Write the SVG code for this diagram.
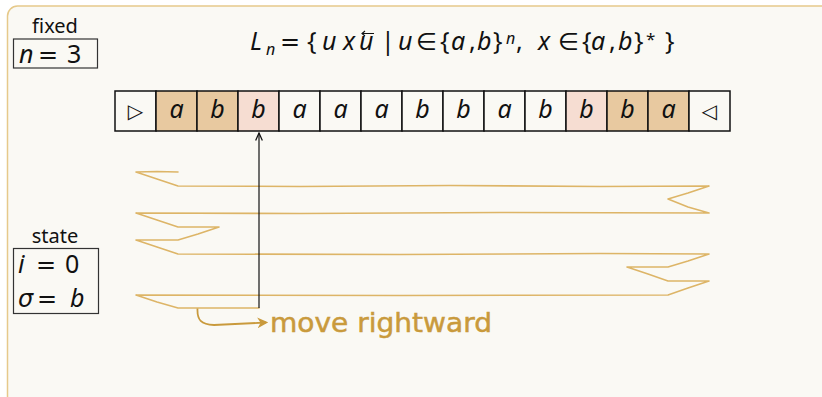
<svg xmlns="http://www.w3.org/2000/svg" width="822" height="397" viewBox="0 0 822 397">
<defs>
<style>
.m{font-family:"Noto Sans","DejaVu Sans",sans-serif;font-size:25px;fill:#111}
.i{font-style:italic}
.d{font-family:"DejaVu Sans",sans-serif;font-size:24px;fill:#111}
.lbl{font-family:"Noto Sans","DejaVu Sans",sans-serif;font-size:20px;fill:#111}
.cell{stroke:#111;stroke-width:1.5}
.w{fill:#faf9f4}.t{fill:#e8c9a0}.p{fill:#f6ddd2}
.ct{font-family:"Noto Sans","DejaVu Sans",sans-serif;font-size:25px;font-style:italic;fill:#111;text-anchor:middle}
.sym{font-family:"DejaVu Sans",sans-serif;font-size:20px;fill:#111;text-anchor:middle}
.gold{fill:none;stroke:#ddb567;stroke-width:1.6;stroke-linejoin:round;stroke-linecap:round}
.box{fill:none;stroke:#333;stroke-width:1.2}
</style>
<marker id="ah" viewBox="0 0 10 10" refX="9" refY="5" markerWidth="7" markerHeight="7" orient="auto">
<path d="M0,1 L9,5 L0,9" fill="none" stroke="#111" stroke-width="1.5"/>
</marker>
<marker id="gh" viewBox="0 0 10 10" refX="8" refY="5" markerWidth="6" markerHeight="6" orient="auto">
<path d="M0,0 L10,5 L0,10 L3,5 z" fill="#c99a3c"/>
</marker>
</defs>
<rect x="0" y="0" width="822" height="397" fill="#ffffff"/>
<rect x="7.5" y="6" width="830" height="400" rx="10" fill="#faf9f4" stroke="#e6c98a" stroke-width="1.5"/>

<g id="formula">
<text class="m i" x="250" y="50">L</text>
<text class="m i" x="266" y="55" style="font-size:16px">n</text>
<text class="d" x="280" y="50">=</text>
<text class="m" x="307" y="50">{</text>
<text class="m i" x="322" y="50">u</text>
<text class="m i" x="343" y="50">x</text>
<text class="m i" x="359" y="50">u</text>
<path d="M374,33.5 H362 M365,31 L362,33.5 L365,36" fill="none" stroke="#111" stroke-width="1.1"/>
<text class="m" x="381" y="50">|</text>
<text class="m i" x="398" y="50">u</text>
<text class="d" x="416" y="50">∈</text>
<text class="m" x="440" y="50">{</text>
<text class="m i" x="451" y="50">a</text>
<text class="m" x="469" y="50">,</text>
<text class="m i" x="477" y="50">b</text>
<text class="m" x="493" y="50">}</text>
<text class="m i" x="506" y="44" style="font-size:16px">n</text>
<text class="m" x="516" y="50">,</text>
<text class="m i" x="538" y="50">x</text>
<text class="d" x="558" y="50">∈</text>
<text class="m" x="582" y="50">{</text>
<text class="m i" x="591" y="50">a</text>
<text class="m" x="609" y="50">,</text>
<text class="m i" x="618" y="50">b</text>
<text class="m" x="634" y="50">}</text>
<text class="m" x="646" y="45" style="font-size:17px">*</text>
<text class="m" x="665" y="50">}</text>
</g>

<g id="fixed">
<text class="lbl" x="55" y="33" text-anchor="middle">fixed</text>
<rect class="box" x="13.5" y="39" width="84" height="29"/>
<text class="m i" x="19" y="63">n</text>
<text class="d" x="38" y="63">=</text>
<text class="m" x="67" y="63">3</text>
</g>

<g id="state">
<text class="lbl" x="55" y="243" text-anchor="middle">state</text>
<rect class="box" x="13.5" y="248.5" width="85" height="65"/>
<text class="m i" x="18" y="273">i</text>
<text class="d" x="36" y="273">=</text>
<text class="m" x="65" y="273">0</text>
<text class="d i" x="18" y="307">σ</text>
<text class="d" x="37" y="307">=</text>
<text class="m i" x="70" y="307">b</text>
</g>

<g id="tape">
<rect class="cell w" x="115" y="91" width="41" height="40"/>
<rect class="cell t" x="156" y="91" width="41" height="40"/>
<rect class="cell t" x="197" y="91" width="41" height="40"/>
<rect class="cell p" x="238" y="91" width="41" height="40"/>
<rect class="cell w" x="279" y="91" width="41" height="40"/>
<rect class="cell w" x="320" y="91" width="41" height="40"/>
<rect class="cell w" x="361" y="91" width="41" height="40"/>
<rect class="cell w" x="402" y="91" width="41" height="40"/>
<rect class="cell w" x="443" y="91" width="41" height="40"/>
<rect class="cell w" x="484" y="91" width="41" height="40"/>
<rect class="cell w" x="525" y="91" width="41" height="40"/>
<rect class="cell p" x="566" y="91" width="41" height="40"/>
<rect class="cell t" x="607" y="91" width="41" height="40"/>
<rect class="cell t" x="648" y="91" width="41" height="40"/>
<rect class="cell w" x="689" y="91" width="41" height="40"/>
<text class="sym" x="135.5" y="118">▷</text>
<text class="ct" x="176.5" y="118">a</text>
<text class="ct" x="217.5" y="118">b</text>
<text class="ct" x="258.5" y="118">b</text>
<text class="ct" x="299.5" y="118">a</text>
<text class="ct" x="340.5" y="118">a</text>
<text class="ct" x="381.5" y="118">a</text>
<text class="ct" x="422.5" y="118">b</text>
<text class="ct" x="463.5" y="118">b</text>
<text class="ct" x="504.5" y="118">a</text>
<text class="ct" x="545.5" y="118">b</text>
<text class="ct" x="586.5" y="118">b</text>
<text class="ct" x="627.5" y="118">b</text>
<text class="ct" x="668.5" y="118">a</text>
<text class="sym" x="709.5" y="118">◁</text>
</g>

<g id="connectors">
<path class="gold" d="M178,172 L157,171.5 L136,172 L157,179 L178,186 L300,186.5 L450,185.5 L600,186.5 L709,186 L688,193 L668,199 L688,207 L709,213 L500,212.5 L300,213.5 L136,213 L157,220 L178,227 L219,227 L198,234 L178,240 L136,240 L157,247 L178,254 L400,254.5 L600,253.5 L709,254 L688,261 L668,267 L627,267 L648,274 L668,281 L709,281 L688,288 L668,295 L400,295.5 L136,295 L157,302 L178,308 L259,308"/>
<line x1="259" y1="308" x2="259" y2="133" stroke="#111" stroke-width="1.2" marker-end="url(#ah)"/>
<path d="M197.5,308.5 C197,320 201,324.5 214,325 L266,322.5" fill="none" stroke="#c99a3c" stroke-width="1.8" marker-end="url(#gh)"/>
<text x="270" y="332" font-family="'DejaVu Sans',sans-serif" font-size="26" fill="#c99a3c" stroke="#c99a3c" stroke-width="0.5" textLength="222" lengthAdjust="spacingAndGlyphs">move rightward</text>
</g>
</svg>
